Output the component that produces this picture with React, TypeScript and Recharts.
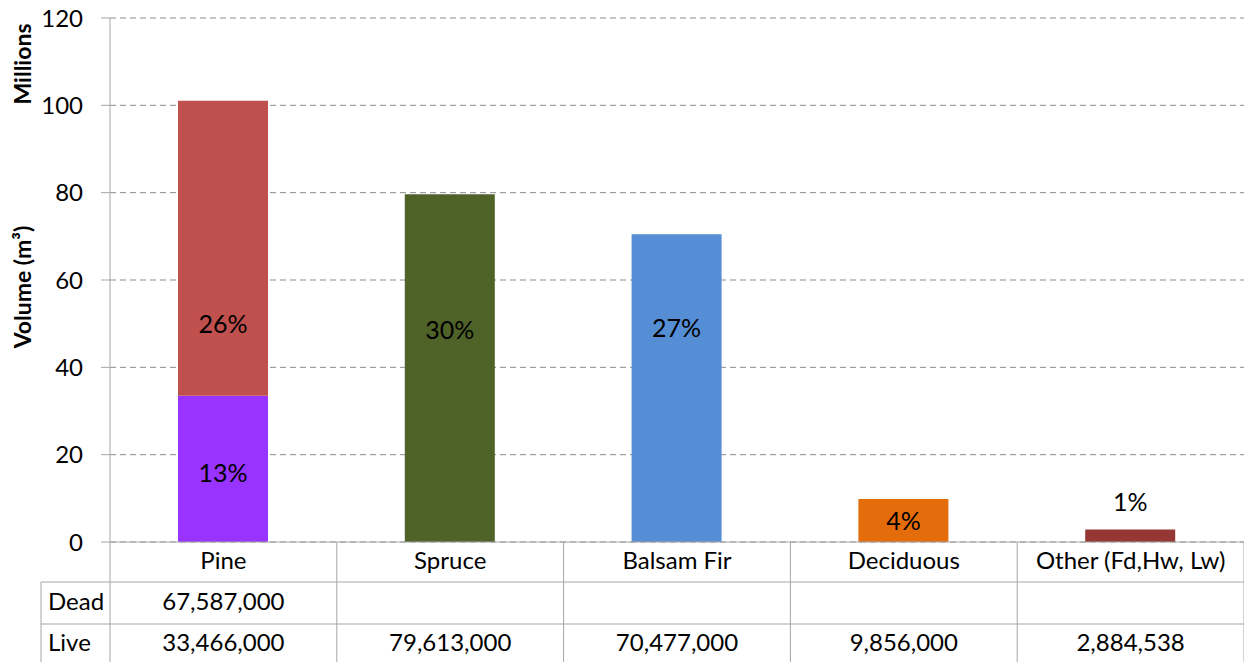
import React from 'react';
import { ComposedChart, Bar, XAxis, YAxis, CartesianGrid, Cell, LabelList } from 'recharts';

// species along the axis
const SPECIES = ['Pine', 'Spruce', 'Balsam Fir', 'Deciduous', 'Other (Fd,Hw, Lw)'];
// volumes in m³
const DEAD = [67587000, null, null, null, null];
const LIVE = [33466000, 79613000, 70477000, 9856000, 2884538];
// share of total volume, as printed on the bars
const LIVE_PCT = ['13%', '30%', '27%', '4%', '1%'];
const DEAD_PCT = ['26%', null, null, null, null];
// level (millions) where each percentage label was placed in the original
const LIVE_PCT_AT = [15.1, 47.9, 48.5, 4.1, 8.5];
const DEAD_PCT_AT = [49.2, null, null, null, null];
const Y_TICKS = [0, 20, 40, 60, 80, 100, 120];

const LIVE_COLORS = ['#9933FF', '#4F6228', '#558ED5', '#E46C0A', '#953735'];
const DEAD_COLOR = '#C0504D';

const data = SPECIES.map((name, i) => ({
  name,
  live: LIVE[i] / 1e6,
  dead: DEAD[i] == null ? null : (DEAD[i] as number) / 1e6,
  livePct: LIVE_PCT[i],
  deadPct: DEAD_PCT[i],
  liveAt: LIVE_PCT_AT[i],
  deadAt: DEAD_PCT_AT[i],
}));

const W = 1244;
const H = 662;
const LEFT = 110;
const TOP = 18;
const BOTTOM = 542;
const BAND = (W - LEFT) / SPECIES.length;
const ROW1 = 582;
const ROW2 = 624;
const FONT = 'Lato, "Liberation Sans", sans-serif';
const LINE = '#a6a6a6';

const fmt = (v: number | null) => (v == null ? '' : v.toLocaleString('en-US'));

const TableTick = (props: any) => {
  const { x, index } = props;
  const i = index as number;
  const l = x - BAND / 2;
  const r = x + BAND / 2;
  return (
    <g fontFamily={FONT} fontSize={24} fill="#000">
      <line x1={r} y1={BOTTOM} x2={r} y2={H} stroke={LINE} />
      <line x1={l} y1={ROW1} x2={r} y2={ROW1} stroke={LINE} />
      <line x1={l} y1={ROW2} x2={r} y2={ROW2} stroke={LINE} />
      <text x={x} y={563} textAnchor="middle" dominantBaseline="middle">{SPECIES[i]}</text>
      <text x={x} y={604} textAnchor="middle" dominantBaseline="middle">{fmt(DEAD[i])}</text>
      <text x={x} y={645} textAnchor="middle" dominantBaseline="middle">{fmt(LIVE[i])}</text>
      {i === 0 && (
        <g>
          <line x1={LEFT} y1={BOTTOM} x2={LEFT} y2={H} stroke={LINE} />
          <line x1={41} y1={ROW1} x2={41} y2={H} stroke={LINE} />
          <line x1={41} y1={ROW1} x2={LEFT} y2={ROW1} stroke={LINE} />
          <line x1={41} y1={ROW2} x2={LEFT} y2={ROW2} stroke={LINE} />
          <text x={48} y={604} dominantBaseline="middle">Dead</text>
          <text x={48} y={645} dominantBaseline="middle">Live</text>
        </g>
      )}
    </g>
  );
};

// percentage label positioned at a given level inside the segment
const pctLabel = (pctKey: 'livePct' | 'deadPct', atKey: 'liveAt' | 'deadAt', valKey: 'live' | 'dead') =>
  (props: any) => {
    const { x, y, width, height, index } = props;
    const d = data[index];
    const pct = d[pctKey];
    const val = d[valKey];
    if (!pct || val == null) return null;
    const base = valKey === 'dead' ? d.live : 0;
    const perUnit = height / val;
    const bottom = y + height;
    const ly = bottom - ((d[atKey] as number) - base) * perUnit;
    return (
      <text x={x + width / 2} y={ly} textAnchor="middle" dominantBaseline="middle"
        fontFamily={FONT} fontSize={25} fill="#000">{pct}</text>
    );
  };

const AxisTitles = () => (
  <g fontFamily={FONT} fontSize={23} fontWeight="bold" fill="#000">
    <text transform="translate(31,64) rotate(-90)" textAnchor="middle">Millions</text>
    <text transform="translate(31,287) rotate(-90)" textAnchor="middle">Volume (m³)</text>
  </g>
);

export default function App() {
  return (
    <div style={{ position: 'absolute', left: 0, top: 0, width: W, height: H, background: '#fff' }}>
      <ComposedChart width={W} height={H} data={data}
        margin={{ top: TOP, right: 0, left: 0, bottom: 0 }} barCategoryGap={0}>
        <CartesianGrid vertical={false} stroke="#8c8c8c" strokeDasharray="6 4" />
        <XAxis dataKey="name" interval={0} height={H - BOTTOM} tickLine={false}
          axisLine={{ stroke: LINE }} tick={<TableTick />} />
        <YAxis width={LEFT} domain={[0, 120]} ticks={Y_TICKS} tickSize={9} tickMargin={18}
          axisLine={{ stroke: LINE }} tickLine={{ stroke: LINE }}
          tick={{ fontFamily: FONT, fontSize: 24, fill: '#000' }}
          label={<AxisTitles />} />
        <Bar dataKey="live" stackId="a" barSize={90} isAnimationActive={false}>
          {data.map((d, i) => <Cell key={d.name} fill={LIVE_COLORS[i]} />)}
          <LabelList dataKey="livePct" content={pctLabel('livePct', 'liveAt', 'live')} />
        </Bar>
        <Bar dataKey="dead" stackId="a" barSize={90} fill={DEAD_COLOR} isAnimationActive={false}>
          <LabelList dataKey="deadPct" content={pctLabel('deadPct', 'deadAt', 'dead')} />
        </Bar>
      </ComposedChart>
    </div>
  );
}
